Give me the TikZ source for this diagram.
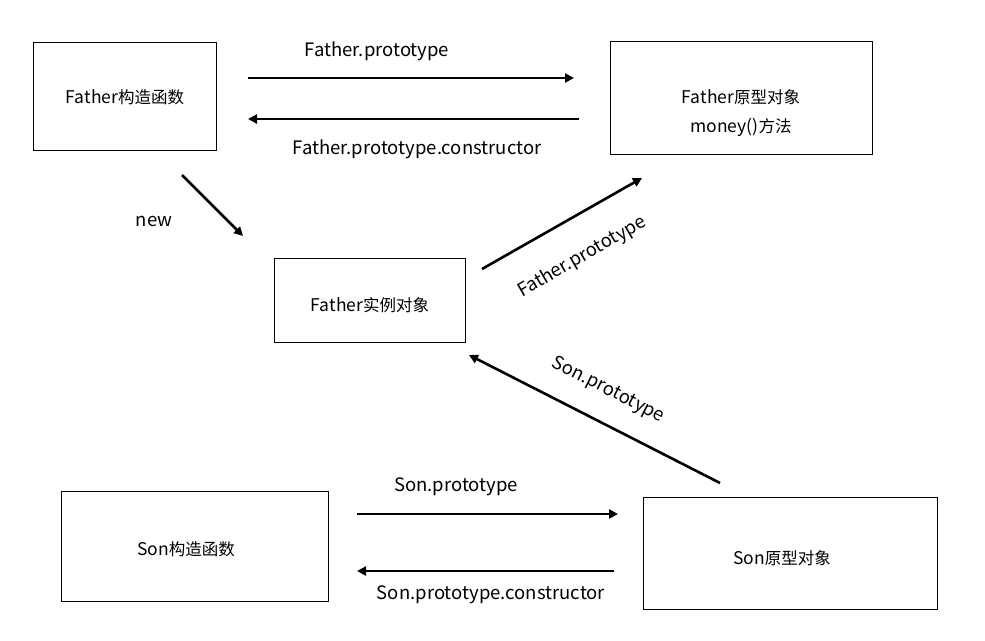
\documentclass[tikz,border=0pt]{standalone}
\usepackage{fontspec}
\setmainfont{Noto Sans CJK SC}
\newfontfamily\cjkfam{Noto Sans CJK SC}
\newcommand{\zh}[1]{{\cjkfam\fontsize{16.5}{19}\selectfont #1}}
\usetikzlibrary{arrows.meta}
\begin{document}
\begin{tikzpicture}[x=1pt,y=-1pt,
  box/.style={draw,line width=1.3pt,inner sep=0pt,anchor=north west},
  conn/.style={line width=2.6pt,-{Triangle[length=9pt,width=9pt]}},
  lbl/.style={font=\fontsize{18.5}{21}\selectfont,inner sep=0pt},
  txt/.style={font=\fontsize{17.5}{21}\selectfont,inner sep=0pt}]
\useasboundingbox (0,0) rectangle (985,640);
% boxes
\node[box,minimum width=183pt,minimum height=108pt] (fc) at (33,42) {};
\node[txt] (fct) at (125,97) {Father\zh{构造函数}};
\node[box,minimum width=262pt,minimum height=113pt] (fp) at (610,41) {};
\node[txt] (fpt1) at (741,97) {Father\zh{原型对象}};
\node[txt] (fpt2) at (741,127) {money()\zh{方法}};
\node[box,minimum width=191pt,minimum height=84pt] (fi) at (274,258) {};
\node[txt] (fit) at (370,305) {Father\zh{实例对象}};
\node[box,minimum width=267pt,minimum height=110pt] (sc) at (61,491) {};
\node[txt] (sct) at (186,549) {Son\zh{构造函数}};
\node[box,minimum width=294pt,minimum height=112pt] (sp) at (643,497) {};
\node[txt] (spt) at (782,558) {Son\zh{原型对象}};
% arrow end points
\coordinate (a1s) at (248,78);  \coordinate (a1e) at (574,78);
\coordinate (a2s) at (579,119); \coordinate (a2e) at (248,119);
\coordinate (a3s) at (182,175); \coordinate (a3e) at (243,236);
\coordinate (a4s) at (482,269); \coordinate (a4e) at (642,178);
\coordinate (a5s) at (720,483); \coordinate (a5e) at (469,355);
\coordinate (a6s) at (357,514); \coordinate (a6e) at (618,514);
\coordinate (a7s) at (614,571); \coordinate (a7e) at (357,571);
\draw[conn] (a1s) -- (a1e);
\draw[conn] (a2s) -- (a2e);
\draw[conn] (a3s) -- (a3e);
\draw[conn] (a4s) -- (a4e);
\draw[conn] (a5s) -- (a5e);
\draw[conn] (a6s) -- (a6e);
\draw[conn] (a7s) -- (a7e);
% labels
\node[lbl] (l1) at (377,51) {Father.prototype};
\node[lbl] (l2) at (417,149) {Father.prototype.constructor};
\node[lbl] (l3) at (154,221) {new};
\node[lbl,rotate=30] (l4) at (582,257) {Father.prototype};
\node[lbl,rotate=-27] (l5) at (608,390) {Son.prototype};
\node[lbl] (l6) at (456,487) {Son.prototype};
\node[lbl] (l7) at (491,595) {Son.prototype.constructor};
\end{tikzpicture}
\end{document}
